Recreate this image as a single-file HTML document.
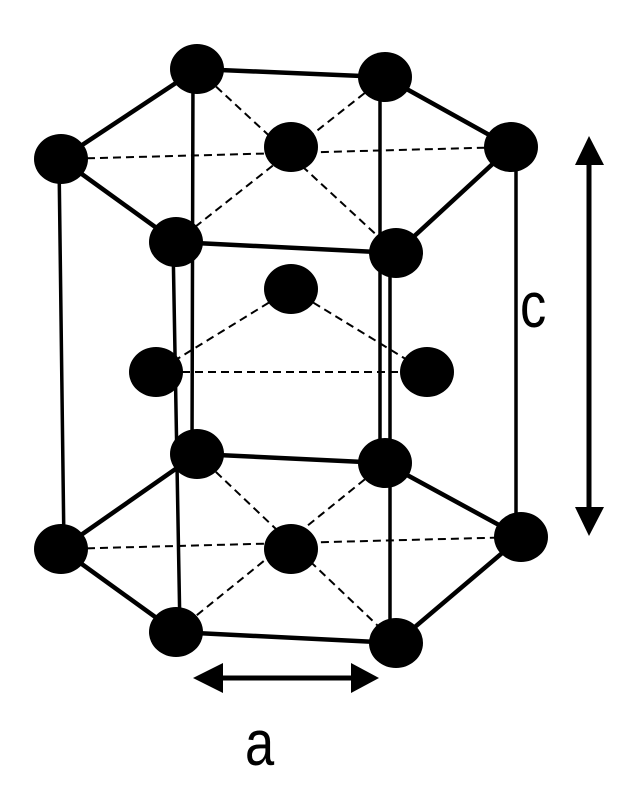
<!DOCTYPE html>
<html><head><meta charset="utf-8"><style>
html,body{margin:0;padding:0;background:#fff;}
svg{display:block;}
text{font-family:"Liberation Sans",sans-serif;}
</style></head><body>
<svg width="619" height="791" viewBox="0 0 619 791" xmlns="http://www.w3.org/2000/svg">
<g stroke="#000" fill="none" stroke-linecap="round">
<!-- verticals -->
<line x1="59" y1="160" x2="64" y2="549" stroke-width="3.5"/>
<line x1="193" y1="70" x2="192" y2="454" stroke-width="3.5"/>
<line x1="173" y1="242" x2="180" y2="632" stroke-width="3.5"/>
<line x1="380" y1="77" x2="380" y2="463" stroke-width="3.5"/>
<line x1="390" y1="253" x2="390" y2="643" stroke-width="3.5"/>
<line x1="516" y1="147" x2="516" y2="537" stroke-width="3.5"/>
<!-- dashed -->
<g stroke-width="2" stroke-dasharray="8,5" stroke-linecap="butt">
<line x1="61" y1="159" x2="511" y2="147"/>
<line x1="197" y1="69" x2="396" y2="253"/>
<line x1="385" y1="77" x2="176" y2="242"/>
<line x1="156" y1="372" x2="427" y2="372"/>
<line x1="291" y1="289" x2="156" y2="372"/>
<line x1="291" y1="289" x2="427" y2="372"/>
<line x1="61" y1="549" x2="521" y2="537"/>
<line x1="197" y1="454" x2="396" y2="643"/>
<line x1="385" y1="463" x2="176" y2="632"/>
</g>
<!-- hexagons -->
<g stroke-width="4.5">
<polyline points="61,159 197,69 385,77 511,147 396,253 176,242 61,159"/>
<polyline points="61,549 197,454 385,463 521,537 396,643 176,632 61,549"/>
</g>
<!-- arrows -->
<line x1="589" y1="160" x2="589" y2="512" stroke-width="5" stroke-linecap="butt"/>
<line x1="218" y1="678" x2="356" y2="678" stroke-width="5" stroke-linecap="butt"/>
</g>
<g fill="#000">
<polygon points="589,136 575,165 604,165"/>
<polygon points="589,536 575,507 604,507"/>
<polygon points="193,678 223,663 223,693"/>
<polygon points="379,678 351,663 351,693"/>
<!-- atoms -->
<ellipse cx="197" cy="69" rx="27" ry="25"/>
<ellipse cx="385" cy="77" rx="27" ry="25"/>
<ellipse cx="61" cy="159" rx="27" ry="25"/>
<ellipse cx="291" cy="147" rx="27" ry="25"/>
<ellipse cx="511" cy="147" rx="27" ry="25"/>
<ellipse cx="176" cy="242" rx="27" ry="25"/>
<ellipse cx="396" cy="253" rx="27" ry="25"/>
<ellipse cx="291" cy="289" rx="27" ry="25"/>
<ellipse cx="156" cy="372" rx="27" ry="25"/>
<ellipse cx="427" cy="372" rx="27" ry="25"/>
<ellipse cx="197" cy="454" rx="27" ry="25"/>
<ellipse cx="385" cy="463" rx="27" ry="25"/>
<ellipse cx="61" cy="549" rx="27" ry="25"/>
<ellipse cx="291" cy="549" rx="27" ry="25"/>
<ellipse cx="521" cy="537" rx="27" ry="25"/>
<ellipse cx="176" cy="632" rx="27" ry="25"/>
<ellipse cx="396" cy="643" rx="27" ry="25"/>
<text x="0" y="0" font-size="64" transform="translate(520,327) scale(0.82,1)">c</text>
<text x="0" y="0" font-size="64" transform="translate(245,765) scale(0.82,1)">a</text>
</g>
</svg>
</body></html>
